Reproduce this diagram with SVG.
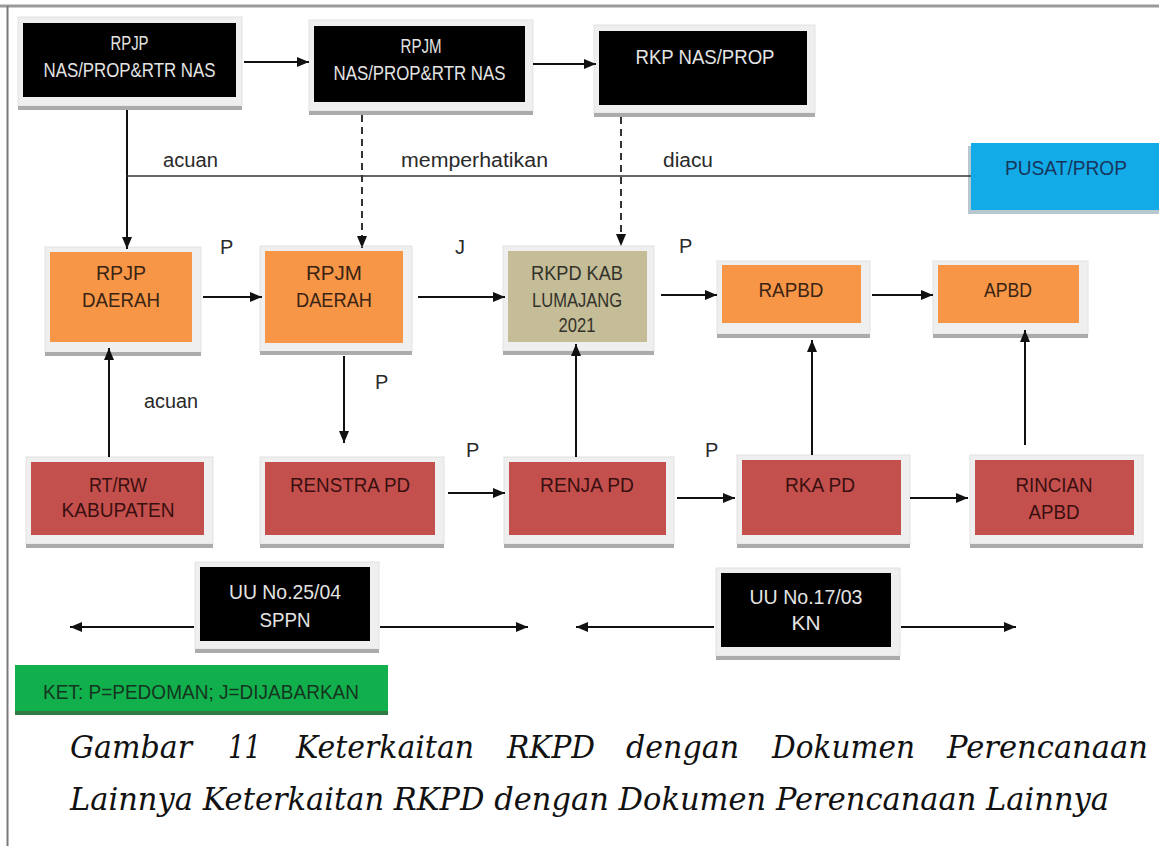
<svg xmlns="http://www.w3.org/2000/svg" width="1159" height="846" viewBox="0 0 1159 846">
<style>
.bev{fill:#efefef;stroke:#e2e2e2;stroke-width:1}
.bar{fill:#ababab}
.blk{fill:#000}
.org{fill:#f79646}
.red{fill:#c4504e}
.tan{fill:#c4bd97}
text{font-family:"Liberation Sans",Arial,sans-serif}
.t{font-size:21px;text-anchor:middle}
.tw{fill:#e4e4e4}
.to{fill:#3a2414}
.tr{fill:#3a0f0f}
.tt{fill:#33322a}
.lbl text{font-size:20px;fill:#2a2a2a}
.cap text{font-family:"DejaVu Serif","Liberation Serif",serif;font-style:italic;font-size:32px;fill:#111}
.ln{stroke:#111;stroke-width:2;fill:none}
.dl{stroke:#333;stroke-width:2;fill:none;stroke-dasharray:7 5}
.th{stroke:#333;stroke-width:1.5;fill:none}
</style>
<defs>
<marker id="ah" markerUnits="userSpaceOnUse" markerWidth="12" markerHeight="10" refX="12" refY="5" orient="auto">
<path d="M0,0 L12,5 L0,10 z" fill="#111"/>
</marker>
</defs>
<rect x="0" y="0" width="1159" height="846" fill="#fff"/>
<line x1="0" y1="6" x2="1159" y2="6" stroke="#9a9a9a" stroke-width="3"/>
<line x1="7.5" y1="6" x2="7.5" y2="846" stroke="#7a7a7a" stroke-width="2"/>

<g id="labels" class="lbl">
<text x="163" y="167" textLength="55" lengthAdjust="spacingAndGlyphs">acuan</text>
<text x="401" y="167" textLength="147" lengthAdjust="spacingAndGlyphs">memperhatikan</text>
<text x="663" y="167" textLength="50" lengthAdjust="spacingAndGlyphs">diacu</text>
<text x="144" y="408" textLength="54" lengthAdjust="spacingAndGlyphs">acuan</text>
<text x="220" y="254">P</text>
<text x="375" y="389">P</text>
<text x="466" y="457">P</text>
<text x="679" y="253">P</text>
<text x="705" y="457">P</text>
<text x="455" y="254">J</text>
</g>

<g id="rpjp-nas">
<rect class="bev" x="18" y="17" width="224" height="89"/><rect class="bar" x="18" y="106" width="224" height="4"/>
<rect class="blk" x="23" y="23" width="213" height="74"/>
<text class="t tw" x="129.5" y="50" textLength="38" lengthAdjust="spacingAndGlyphs">RPJP</text>
<text class="t tw" x="129.5" y="77" textLength="172" lengthAdjust="spacingAndGlyphs">NAS/PROP&amp;RTR NAS</text>
</g>
<g id="rpjm-nas">
<rect class="bev" x="309" y="20" width="224" height="91"/><rect class="bar" x="309" y="111" width="224" height="4"/>
<rect class="blk" x="314" y="26" width="211" height="76"/>
<text class="t tw" x="421" y="53" textLength="41" lengthAdjust="spacingAndGlyphs">RPJM</text>
<text class="t tw" x="419.5" y="80" textLength="172" lengthAdjust="spacingAndGlyphs">NAS/PROP&amp;RTR NAS</text>
</g>
<g id="rkp-nas">
<rect class="bev" x="594" y="25" width="221" height="88"/><rect class="bar" x="594" y="113" width="221" height="4"/>
<rect class="blk" x="599" y="31" width="208" height="74"/>
<text class="t tw" x="705" y="64" textLength="139" lengthAdjust="spacingAndGlyphs">RKP NAS/PROP</text>
</g>
<g id="pusat-prop">
<rect x="968" y="146" width="195" height="68" fill="#6f8fa0" opacity="0.5"/>
<rect x="971" y="143" width="192" height="67" fill="#12abe8"/>
<text class="t" x="1066" y="175" fill="#17365d" textLength="122" lengthAdjust="spacingAndGlyphs">PUSAT/PROP</text>
</g>

<g id="rpjp-daerah">
<rect class="bev" x="45" y="247" width="156" height="106"/><rect class="bar" x="45" y="352" width="156" height="4"/>
<rect class="org" x="50" y="252" width="142" height="90"/>
<text class="t to" x="121" y="280" textLength="50" lengthAdjust="spacingAndGlyphs">RPJP</text>
<text class="t to" x="121" y="307" textLength="78" lengthAdjust="spacingAndGlyphs">DAERAH</text>
</g>
<g id="rpjm-daerah">
<rect class="bev" x="260" y="246" width="152" height="106"/><rect class="bar" x="260" y="351" width="152" height="4"/>
<rect class="org" x="265" y="251" width="138" height="92"/>
<text class="t to" x="334" y="280" textLength="56" lengthAdjust="spacingAndGlyphs">RPJM</text>
<text class="t to" x="334" y="307" textLength="76" lengthAdjust="spacingAndGlyphs">DAERAH</text>
</g>
<g id="rkpd">
<rect class="bev" x="503" y="246" width="151" height="105"/><rect class="bar" x="503" y="351" width="151" height="4"/>
<rect class="tan" x="508" y="251" width="139" height="91"/>
<text class="t tt" x="577" y="280" textLength="92" lengthAdjust="spacingAndGlyphs">RKPD KAB</text>
<text class="t tt" x="577" y="307" textLength="90" lengthAdjust="spacingAndGlyphs">LUMAJANG</text>
<text class="t tt" x="577" y="332" textLength="37" lengthAdjust="spacingAndGlyphs">2021</text>
</g>
<g id="rapbd">
<rect class="bev" x="717" y="261" width="153" height="73"/><rect class="bar" x="717" y="334" width="153" height="4"/>
<rect class="org" x="722" y="265" width="139" height="58"/>
<text class="t to" x="791" y="297" textLength="65" lengthAdjust="spacingAndGlyphs">RAPBD</text>
</g>
<g id="apbd">
<rect class="bev" x="933" y="261" width="155" height="73"/><rect class="bar" x="933" y="334" width="155" height="4"/>
<rect class="org" x="938" y="265" width="141" height="58"/>
<text class="t to" x="1008" y="297" textLength="48" lengthAdjust="spacingAndGlyphs">APBD</text>
</g>

<g id="rtrw">
<rect class="bev" x="26" y="457" width="187" height="87"/><rect class="bar" x="26" y="544" width="187" height="4"/>
<rect class="red" x="31" y="462" width="173" height="73"/>
<text class="t tr" x="118" y="492" textLength="58" lengthAdjust="spacingAndGlyphs">RT/RW</text>
<text class="t tr" x="118" y="517" textLength="113" lengthAdjust="spacingAndGlyphs">KABUPATEN</text>
</g>
<g id="renstra">
<rect class="bev" x="260" y="457" width="184" height="87"/><rect class="bar" x="260" y="544" width="184" height="4"/>
<rect class="red" x="265" y="462" width="170" height="73"/>
<text class="t tr" x="350" y="492" textLength="120" lengthAdjust="spacingAndGlyphs">RENSTRA PD</text>
</g>
<g id="renja">
<rect class="bev" x="504" y="457" width="170" height="87"/><rect class="bar" x="504" y="544" width="170" height="4"/>
<rect class="red" x="509" y="462" width="157" height="73"/>
<text class="t tr" x="587" y="492" textLength="94" lengthAdjust="spacingAndGlyphs">RENJA PD</text>
</g>
<g id="rka">
<rect class="bev" x="737" y="455" width="173" height="89"/><rect class="bar" x="737" y="544" width="173" height="4"/>
<rect class="red" x="742" y="460" width="159" height="75"/>
<text class="t tr" x="820" y="492" textLength="70" lengthAdjust="spacingAndGlyphs">RKA PD</text>
</g>
<g id="rincian">
<rect class="bev" x="970" y="455" width="173" height="89"/><rect class="bar" x="970" y="544" width="173" height="4"/>
<rect class="red" x="975" y="460" width="159" height="75"/>
<text class="t tr" x="1054" y="492" textLength="77" lengthAdjust="spacingAndGlyphs">RINCIAN</text>
<text class="t tr" x="1054" y="519" textLength="51" lengthAdjust="spacingAndGlyphs">APBD</text>
</g>

<g id="uu25">
<rect class="bev" x="195" y="562" width="184" height="87"/><rect class="bar" x="195" y="649" width="184" height="4"/>
<rect class="blk" x="200" y="567" width="170" height="74"/>
<text class="t tw" x="285" y="599" textLength="112" lengthAdjust="spacingAndGlyphs">UU No.25/04</text>
<text class="t tw" x="285" y="627" textLength="51" lengthAdjust="spacingAndGlyphs">SPPN</text>
</g>
<g id="uu17">
<rect class="bev" x="716" y="568" width="184" height="88"/><rect class="bar" x="716" y="656" width="184" height="4"/>
<rect class="blk" x="721" y="573" width="170" height="74"/>
<text class="t tw" x="806" y="604" textLength="113" lengthAdjust="spacingAndGlyphs">UU No.17/03</text>
<text class="t tw" x="806" y="630" textLength="29" lengthAdjust="spacingAndGlyphs">KN</text>
</g>
<g id="ket">
<rect x="15" y="665" width="373" height="50" fill="#2f7a45"/>
<rect x="15" y="665" width="373" height="46" fill="#12b04c"/>
<text class="t" x="201" y="699" fill="#14351f" textLength="316" lengthAdjust="spacingAndGlyphs">KET: P=PEDOMAN; J=DIJABARKAN</text>
</g>

<g id="connectors">
<line class="ln" x1="244" y1="62" x2="309" y2="62" marker-end="url(#ah)"/>
<line class="ln" x1="533" y1="64" x2="596" y2="64" marker-end="url(#ah)"/>
<line class="ln" x1="127" y1="110" x2="127" y2="249" marker-end="url(#ah)"/>
<line class="th" x1="127" y1="176" x2="971" y2="176"/>
<line class="dl" x1="362" y1="115" x2="362" y2="248" marker-end="url(#ah)"/>
<line class="dl" x1="621" y1="117" x2="621" y2="246" marker-end="url(#ah)"/>
<line class="ln" x1="203" y1="297" x2="262" y2="297" marker-end="url(#ah)"/>
<line class="ln" x1="418" y1="297" x2="505" y2="297" marker-end="url(#ah)"/>
<line class="ln" x1="661" y1="295" x2="717" y2="295" marker-end="url(#ah)"/>
<line class="ln" x1="872" y1="295" x2="933" y2="295" marker-end="url(#ah)"/>
<line class="ln" x1="109" y1="457" x2="109" y2="348" marker-end="url(#ah)"/>
<line class="ln" x1="344" y1="356" x2="344" y2="443" marker-end="url(#ah)"/>
<line class="ln" x1="448" y1="493" x2="505" y2="493" marker-end="url(#ah)"/>
<line class="ln" x1="576" y1="457" x2="576" y2="344" marker-end="url(#ah)"/>
<line class="ln" x1="677" y1="498" x2="735" y2="498" marker-end="url(#ah)"/>
<line class="ln" x1="812" y1="455" x2="812" y2="340" marker-end="url(#ah)"/>
<line class="ln" x1="910" y1="498" x2="968" y2="498" marker-end="url(#ah)"/>
<line class="ln" x1="1025" y1="445" x2="1025" y2="330" marker-end="url(#ah)"/>
<line class="ln" x1="194" y1="627" x2="70" y2="627" marker-end="url(#ah)"/>
<line class="ln" x1="380" y1="627" x2="528" y2="627" marker-end="url(#ah)"/>
<line class="ln" x1="714" y1="627" x2="576" y2="627" marker-end="url(#ah)"/>
<line class="ln" x1="901" y1="627" x2="1016" y2="627" marker-end="url(#ah)"/>
</g>

<g id="caption" class="cap">
<text x="70" y="758" textLength="122" lengthAdjust="spacingAndGlyphs">Gambar</text>
<text x="228" y="758" textLength="33" lengthAdjust="spacingAndGlyphs">11</text>
<text x="296" y="758" textLength="178" lengthAdjust="spacingAndGlyphs">Keterkaitan</text>
<text x="507" y="758" textLength="88" lengthAdjust="spacingAndGlyphs">RKPD</text>
<text x="626" y="758" textLength="113" lengthAdjust="spacingAndGlyphs">dengan</text>
<text x="772" y="758" textLength="143" lengthAdjust="spacingAndGlyphs">Dokumen</text>
<text x="947" y="758" textLength="201" lengthAdjust="spacingAndGlyphs">Perencanaan</text>
<text x="70" y="810" textLength="1039" lengthAdjust="spacingAndGlyphs">Lainnya Keterkaitan RKPD dengan Dokumen Perencanaan Lainnya</text>
</g>
</svg>
